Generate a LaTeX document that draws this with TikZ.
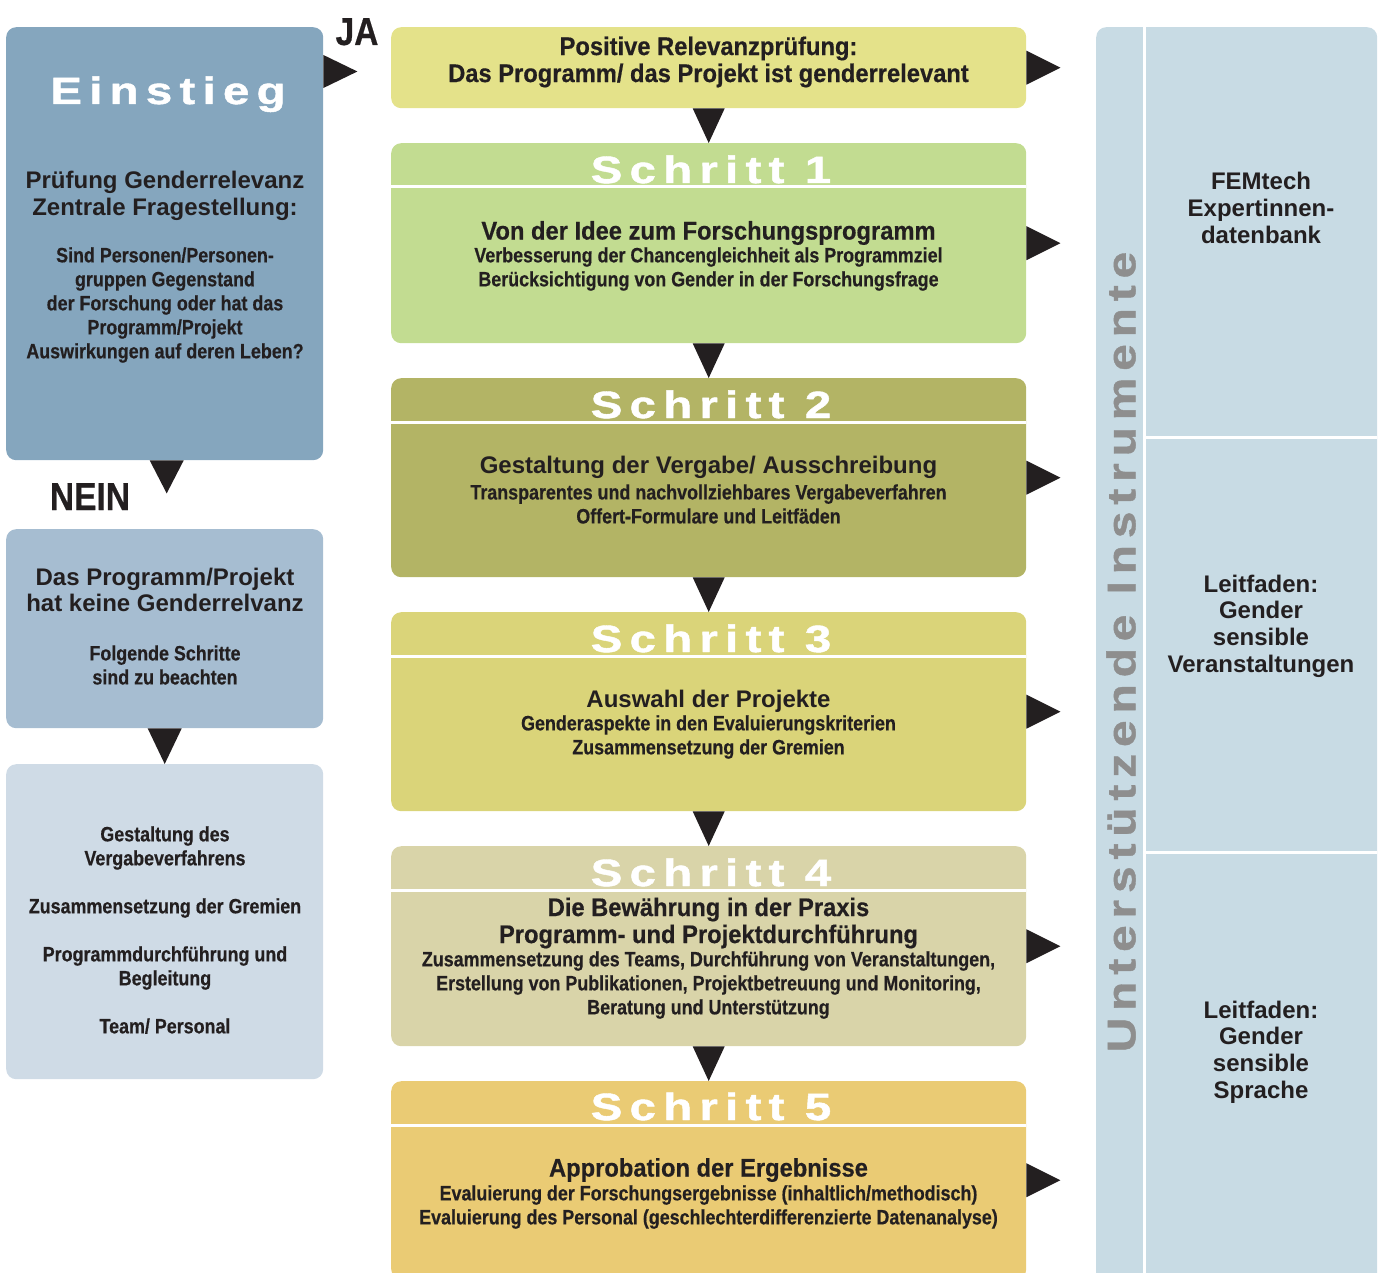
\documentclass[tikz,border=0pt]{standalone}
\usepackage{fontspec}
\setmainfont{Liberation Sans}
\newfontfamily\cfs[FakeStretch=0.86,FakeBold=0.5]{Liberation Sans}
\newfontfamily\cfl[FakeStretch=0.93,FakeBold=0.5]{Liberation Sans}
\newfontfamily\wfa[FakeStretch=1.25,LetterSpace=19,FakeBold=1.2]{Liberation Sans}
\newfontfamily\wfb[FakeStretch=1.2,LetterSpace=17,FakeBold=1.0]{Liberation Sans}
\usetikzlibrary{calc}
\definecolor{cEin}{HTML}{85A6BE}
\definecolor{cNein}{HTML}{A6BDD1}
\definecolor{cLight}{HTML}{CFDBE6}
\definecolor{cPos}{HTML}{E4E28A}
\definecolor{cSa}{HTML}{C2DC91}
\definecolor{cSb}{HTML}{B3B465}
\definecolor{cSc}{HTML}{DAD479}
\definecolor{cSd}{HTML}{D9D4A9}
\definecolor{cSe}{HTML}{EACB74}
\definecolor{cR}{HTML}{C8DBE4}
\definecolor{cGrey}{HTML}{8E8E8E}
\definecolor{cTxt}{HTML}{231F20}
\begin{document}
\begin{tikzpicture}[x=1pt,y=-1pt,
  box/.style={draw=none, rounded corners=10pt, inner sep=0pt, anchor=north west},
  txt/.style={align=center, text=cTxt, inner sep=0pt},
  sm/.style={txt, font=\cfs\bfseries\fontsize{20.8}{24}\selectfont},
  lg/.style={txt, font=\cfl\bfseries\fontsize{25.5}{27}\selectfont},
  hv/.style={txt, font=\bfseries\fontsize{24}{26.7}\selectfont},
  ttl/.style={txt, text=white, anchor=base, font=\wfa\bfseries\fontsize{38}{40}\selectfont},
  yn/.style={txt, anchor=base, font=\cfs\bfseries\fontsize{39}{40}\selectfont},
  tri/.style={fill=cTxt},
  sep/.style={draw=white, line width=3pt}
]
\useasboundingbox (0,0) rectangle (1383,1273);
\clip (0,0) rectangle (1383,1273);

% left column
\node[box, fill=cEin, minimum width=317pt, minimum height=433pt] (ein) at (6,27) {};
\node[box, fill=cNein, minimum width=317pt, minimum height=199pt] (nb) at (6,529) {};
\node[box, fill=cLight, minimum width=317pt, minimum height=315pt] (lb) at (6,764) {};

% middle column
\node[box, fill=cPos, minimum width=635pt, minimum height=81pt] (pos) at (391,27) {};
\node[box, fill=cSa, minimum width=635pt, minimum height=200pt] (s1) at (391,143) {};
\node[box, fill=cSb, minimum width=635pt, minimum height=199pt] (s2) at (391,378) {};
\node[box, fill=cSc, minimum width=635pt, minimum height=199pt] (s3) at (391,612) {};
\node[box, fill=cSd, minimum width=635pt, minimum height=200pt] (s4) at (391,846) {};
\node[box, fill=cSe, minimum width=635pt, minimum height=198pt] (s5) at (391,1081) {};
\foreach \n in {s1,s2,s3,s4,s5}
  \draw[sep] ($(\n.north west)+(0,44)$) -- ($(\n.north east)+(0,44)$);

% right panel
\node[box, fill=cR, minimum width=281pt, minimum height=1270pt] (rp) at (1096,27) {};
\draw[sep] ($(rp.north west)+(48,0)$) -- ($(rp.south west)+(48,0)$);
\draw[sep] ($(rp.north west)+(48,410)$) -- ($(rp.north east)+(0,410)$);
\draw[sep] ($(rp.north west)+(48,825)$) -- ($(rp.north east)+(0,825)$);

% triangles
\fill[tri] ($(ein.north east)+(0,28)$) -- ($(ein.north east)+(0,61)$) -- ($(ein.north east)+(34,44.5)$) -- cycle;
\fill[tri] ($(ein.south)+(-15,0)$) -- ($(ein.south)+(19,0)$) -- ($(ein.south)+(2,33)$) -- cycle;
\fill[tri] ($(nb.south)+(-17,0)$) -- ($(nb.south)+(17,0)$) -- (lb.north) -- cycle;
\foreach \a/\b in {pos/s1,s1/s2,s2/s3,s3/s4,s4/s5}
  \fill[tri] ($(\a.south)+(-16,0)$) -- ($(\a.south)+(16,0)$) -- (\b.north) -- cycle;
\foreach \n in {pos,s1,s2,s3,s4}
  \fill[tri] ($(\n.east)+(0,-17)$) -- ($(\n.east)+(0,17)$) -- ($(\n.east)+(34,0)$) -- cycle;
\fill[tri] ($(s5.east)+(0,-17)$) -- ($(s5.east)+(0,17)$) -- ($(s5.east)+(34,0)$) -- cycle;

% labels JA / NEIN
\node[yn] (ja) at (357,45) {JA};
\node[yn] (nein) at (90,510) {NEIN};

% left texts
\node[ttl] (eint) at (168,104) {Einstieg};
\node[hv] (eina) at (165,196) {Prüfung Genderrelevanz\\Zentrale Fragestellung:};
\node[sm] (einb) at (165,305) {Sind Personen/Personen-\\gruppen Gegenstand\\der Forschung oder hat das\\Programm/Projekt\\Auswirkungen auf deren Leben?};
\node[hv] (nba) at (165,590) {Das Programm/Projekt\\hat keine Genderrelvanz};
\node[sm] (nbb) at (165,665) {Folgende Schritte\\sind zu beachten};
\node[sm] (lbt) at (165,930) {Gestaltung des\\Vergabeverfahrens\\[24pt]Zusammensetzung der Gremien\\[24pt]Programmdurchführung und\\Begleitung\\[24pt]Team/ Personal};

% middle texts
\node[lg] (post) at (708.5,62) {Positive Relevanzprüfung:\\Das Programm/ das Projekt ist genderrelevant};
\node[ttl] (s1t) at (711,183) {Schritt 1};
\node[lg] (s1a) at (708.5,233) {Von der Idee zum Forschungsprogramm};
\node[sm] (s1b) at (708.5,269) {Verbesserung der Chancengleichheit als Programmziel\\Berücksichtigung von Gender in der Forschungsfrage};
\node[ttl] (s2t) at (711,418) {Schritt 2};
\node[hv] (s2a) at (708.5,467) {Gestaltung der Vergabe/ Ausschreibung};
\node[sm] (s2b) at (708.5,504) {Transparentes und nachvollziehbares Vergabeverfahren\\Offert-Formulare und Leitfäden};
\node[ttl] (s3t) at (711,652) {Schritt 3};
\node[hv] (s3a) at (708.5,701) {Auswahl der Projekte};
\node[sm] (s3b) at (708.5,737) {Genderaspekte in den Evaluierungskriterien\\Zusammensetzung der Gremien};
\node[ttl] (s4t) at (711,886) {Schritt 4};
\node[lg] (s4a) at (708.5,923) {Die Bewährung in der Praxis\\Programm- und Projektdurchführung};
\node[sm] (s4b) at (708.5,985) {Zusammensetzung des Teams, Durchführung von Veranstaltungen,\\Erstellung von Publikationen, Projektbetreuung und Monitoring,\\Beratung und Unterstützung};
\node[ttl] (s5t) at (711,1120) {Schritt 5};
\node[lg] (s5a) at (708.5,1170) {Approbation der Ergebnisse};
\node[sm] (s5b) at (708.5,1207) {Evaluierung der Forschungsergebnisse (inhaltlich/methodisch)\\Evaluierung des Personal (geschlechterdifferenzierte Datenanalyse)};

% right texts
\node[txt, text=cGrey, rotate=90, font=\wfb\bfseries\fontsize{40}{44}\selectfont] (unt) at (1121,652) {Unterstützende Instrumente};
\node[hv] (ra) at (1261,208) {FEMtech\\Expertinnen-\\datenbank};
\node[hv] (rb) at (1261,626) {Leitfaden:\\Gender\\sensible\\Veranstaltungen};
\node[hv] (rc) at (1261,1052) {Leitfaden:\\Gender\\sensible\\Sprache};
\end{tikzpicture}
\end{document}
